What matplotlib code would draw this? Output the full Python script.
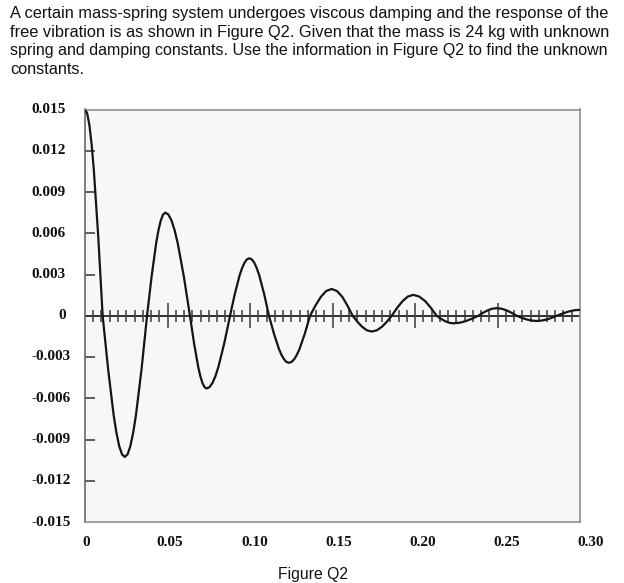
import matplotlib
matplotlib.use('Agg')
import matplotlib.pyplot as plt
import numpy as np
from matplotlib.transforms import blended_transform_factory

# ---------------- data ----------------
header_lines = [
    "A certain mass-spring system undergoes viscous damping and the response of the",
    "free vibration is as shown in Figure Q2. Given that the mass is 24 kg with unknown",
    "spring and damping constants. Use the information in Figure Q2 to find the unknown",
    "constants.",
]
caption = "Figure Q2"

y_ticks = [0.015, 0.012, 0.009, 0.006, 0.003, 0.0, -0.003, -0.006, -0.009, -0.012, -0.015]
y_labels = ["0.015", "0.012", "0.009", "0.006", "0.003", "0",
            "-0.003", "-0.006", "-0.009", "-0.012", "-0.015"]
x_major = [0.0, 0.05, 0.10, 0.15, 0.20, 0.25, 0.30]
x_labels = ["0", "0.05", "0.10", "0.15", "0.20", "0.25", "0.30"]

t_vals = [0.0,
          0.00134, 0.00268, 0.00401, 0.00535, 0.00803, 0.0107,
          0.01405, 0.0174, 0.01908, 0.02075, 0.02243, 0.0241,
          0.02579, 0.02748, 0.02916, 0.03085, 0.03423, 0.0376,
          0.04038, 0.04315, 0.04454, 0.04593, 0.04731, 0.0487,
          0.05056, 0.05243, 0.05429, 0.05615, 0.05988, 0.0636,
          0.06613, 0.06865, 0.06991, 0.07118, 0.07244, 0.0737,
          0.07548, 0.07725, 0.07903, 0.0808, 0.08435, 0.0879,
          0.09083, 0.09375, 0.09521, 0.09668, 0.09814, 0.0996,
          0.10109, 0.10258, 0.10406, 0.10555, 0.10853, 0.1115,
          0.11453, 0.11755, 0.11906, 0.12058, 0.12209, 0.1236,
          0.1252, 0.1268, 0.1284, 0.1300, 0.1332, 0.1364,
          0.1397, 0.1430, 0.1462, 0.1495,
          0.1527, 0.1559, 0.1590, 0.1622,
          0.1651, 0.1680, 0.1709, 0.1738,
          0.1768, 0.1799, 0.1829, 0.1859,
          0.1892, 0.1925, 0.1957, 0.1990,
          0.2025, 0.2061, 0.2096, 0.2131,
          0.2156, 0.2182, 0.2207, 0.2232,
          0.2270, 0.2308, 0.2346, 0.2384,
          0.2412, 0.2440, 0.2467, 0.2495,
          0.2525, 0.2556, 0.2586, 0.2616,
          0.2647, 0.2677, 0.2708, 0.2738,
          0.2768, 0.2799, 0.2829, 0.2859,
          0.2894, 0.2929, 0.2965, 0.3000]
x_vals = [0.0150,
          0.01471, 0.01386, 0.01247, 0.01061, 0.00574, 0.0,
          -0.00393, -0.00726, -0.00853, -0.00949, -0.01008, -0.01027,
          -0.01008, -0.00949, -0.00853, -0.00726, -0.00393, 0.0,
          0.00287, 0.00530, 0.00623, 0.00693, 0.00736, 0.00750,
          0.00736, 0.00693, 0.00623, 0.00530, 0.00287, 0.0,
          -0.00203, -0.00374, -0.00440, -0.00489, -0.00519, -0.00529,
          -0.00519, -0.00489, -0.00440, -0.00374, -0.00203, 0.0,
          0.00160, 0.00296, 0.00347, 0.00386, 0.00410, 0.00418,
          0.00410, 0.00386, 0.00347, 0.00296, 0.00160, 0.0,
          -0.00131, -0.00242, -0.00284, -0.00316, -0.00336, -0.00342,
          -0.00336, -0.00316, -0.00284, -0.00242, -0.00131, 0.0,
          0.00075, 0.00138, 0.00180, 0.00195,
          0.00180, 0.00138, 0.00075, 0.0,
          -0.00044, -0.00081, -0.00106, -0.00115,
          -0.00106, -0.00081, -0.00044, 0.0,
          0.00058, 0.00107, 0.00140, 0.00152,
          0.00140, 0.00107, 0.00058, 0.0,
          -0.00021, -0.00039, -0.00051, -0.00055,
          -0.00051, -0.00039, -0.00021, 0.0,
          0.00021, 0.00039, 0.00051, 0.00055,
          0.00051, 0.00039, 0.00021, 0.0,
          -0.00015, -0.00027, -0.00035, -0.00038,
          -0.00035, -0.00027, -0.00015, 0.0,
          0.00016, 0.00030, 0.00040, 0.00043]
assert len(t_vals) == len(x_vals)

# ---------------- figure ----------------
W, H = 624, 583
fig = plt.figure(figsize=(W / 100, H / 100), dpi=100)
fig.patch.set_facecolor('white')
renderer = fig.canvas.get_renderer()

# header text: one text per line, size fitted so lines 1-3 span the full width
sans = 'Liberation Sans'
x0, x1 = 10, 609
sizes = []
for ln in header_lines[:3]:
    p = fig.text(0, 0, ln, fontsize=10, family=sans)
    w = p.get_window_extent(renderer).width
    p.remove()
    sizes.append(10 * (x1 - x0) / w)
fs_mean = float(np.mean(sizes))
baselines = [18, 36.5, 55, 73.5]
for i, (ln, yb) in enumerate(zip(header_lines, baselines)):
    f = sizes[i] if i < 3 else fs_mean
    fig.text(x0 / W, 1 - yb / H, ln, fontsize=f, family=sans,
             va='baseline', ha='left', color='#111111')

fig.text(313 / W, 1 - 579 / H, caption, fontsize=fs_mean * 0.97, family=sans,
         ha='center', va='baseline', color='#111111')

# axes
ax = fig.add_axes([85 / W, (H - 522) / H, 495 / W, 412.5 / H])
ax.set_facecolor('#f6f7f6')
ax.set_xlim(0, 0.30)
ax.set_ylim(-0.015, 0.015)
for s in ax.spines.values():
    s.set_color('#8f8f8f')
    s.set_linewidth(1.2)
ax.spines['left'].set_color('#666666')

# y ticks (inward)
ax.set_yticks([v for v in y_ticks if abs(v) < 0.0145 and v != 0.0])
ax.tick_params(axis='y', direction='in', length=7.5, width=1.1, color='#333333',
               labelleft=False)
ax.set_xticks([])

serif = 'Liberation Serif'
ytrans = blended_transform_factory(fig.transFigure, ax.transData)
for v, lab in zip(y_ticks, y_labels):
    xr = 71 if lab.startswith('-') else 66
    ax.text(xr / W, v, lab, transform=ytrans, ha='right', va='center',
            fontsize=11, fontweight='bold', family=serif, color='#111111')

xtrans = blended_transform_factory(ax.transData, fig.transFigure)
for v, lab in zip(x_major, x_labels):
    ax.text(v + 0.0006 + v * 0.02, 1 - 542 / H, lab, transform=xtrans, ha='center',
            va='center', fontsize=11, fontweight='bold', family=serif,
            color='#111111', clip_on=False)

# zero axis line with ticks
ax.axhline(0, color='#222222', lw=1.3, zorder=2)
x_minor = [m for m in np.round(np.arange(0.005, 0.30, 0.005), 3)
           if abs(m / 0.05 - round(m / 0.05)) > 1e-6]
ax.vlines(x_minor, -0.00045, 0.00045, color='#3a3a3a', lw=1.1, zorder=2)
ax.vlines(x_major[1:-1], -0.0009, 0.0009, color='#3a3a3a', lw=1.1, zorder=2)

# response curve
ax.plot(t_vals, x_vals, color='#151515', lw=1.6, zorder=3,
        solid_joinstyle='round', solid_capstyle='round')

fig.savefig('out.png', dpi=100, facecolor='white')
